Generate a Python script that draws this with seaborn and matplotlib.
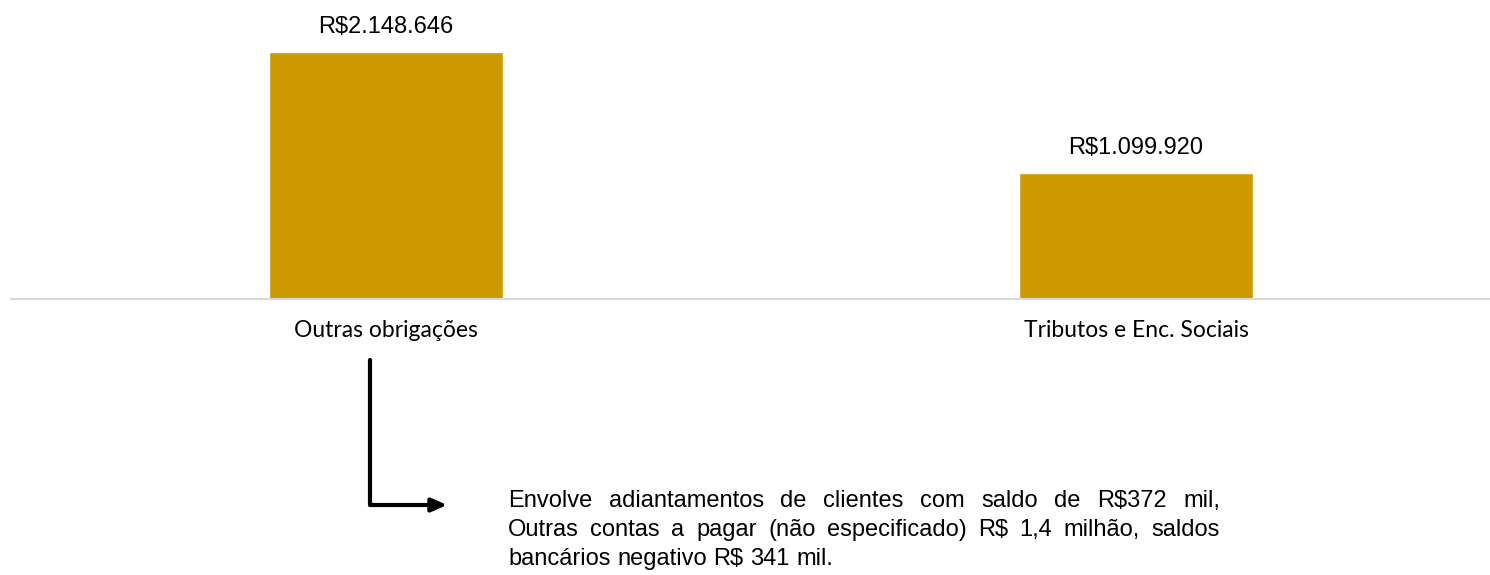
import pandas as pd
import matplotlib.pyplot as plt
import seaborn as sns

# data
categorias = ['Outras obrigações', 'Tributos e Enc. Sociais']
valores = [2148646, 1099920]
rotulos = ['R$2.148.646', 'R$1.099.920']
nota = ['Envolve adiantamentos de clientes com saldo de R$372 mil,',
        'Outras contas a pagar (não especificado) R$ 1,4 milhão, saldos',
        'bancários negativo R$ 341 mil.']

df = pd.DataFrame({'Categoria': categorias, 'Valor': valores})

sns.set_style('white')
plt.rcParams['font.family'] = ['Liberation Sans', 'DejaVu Sans']

fig = plt.figure(figsize=(14.9, 5.75), dpi=100)
ax = fig.add_axes([11 / 1490, 276 / 575, 1479 / 1490, 299 / 575])

sns.barplot(x='Categoria', y='Valor', data=df, color='#CC9900',
            width=0.313, saturation=1, ax=ax)

ax.set_xlim(-0.5, 1.472)
ax.set_ylim(0, 2601000)
ax.set_xlabel('')
ax.set_ylabel('')
ax.set_yticks([])
for s in ['top', 'left', 'right']:
    ax.spines[s].set_visible(False)
ax.spines['bottom'].set_color('#D9D9D9')
ax.spines['bottom'].set_linewidth(1.5)
ax.tick_params(axis='x', length=0, pad=15, labelsize=16.5, labelcolor='black')
for lbl in ax.get_xticklabels():
    lbl.set_family(['Lato', 'DejaVu Sans'])

for i, (v, t) in enumerate(zip(valores, rotulos)):
    ax.annotate(t, xy=(i, v), xytext=(0, 10), textcoords='offset points',
                ha='center', va='bottom', fontsize=17, color='black')

# arrow pointing to the note
ax.annotate('', xy=(447, 575 - 505), xytext=(370, 575 - 360),
            xycoords='figure pixels', textcoords='figure pixels',
            arrowprops=dict(arrowstyle='-|>,head_length=0.9,head_width=0.4',
                            connectionstyle='angle,angleA=90,angleB=0,rad=0',
                            color='black', lw=3, shrinkA=0, shrinkB=0))

# justified note text (last line left aligned)
renderer = fig.canvas.get_renderer()
x0, x1 = 508, 1220
baselines = [507, 536, 565]
for n, (linha, yb) in enumerate(zip(nota, baselines)):
    palavras = linha.split(' ')
    textos = [fig.text(0, 0, p, fontsize=17, color='black', va='baseline',
                       ha='left', transform=None) for p in palavras]
    larg = [t.get_window_extent(renderer).width for t in textos]
    if n < len(nota) - 1:
        gap = (x1 - x0 - sum(larg)) / (len(palavras) - 1)
    else:
        gap = fig.text(0, 0, 'a a', fontsize=17).get_window_extent(renderer).width \
            - 2 * fig.text(0, 0, 'a', fontsize=17).get_window_extent(renderer).width
    x = x0
    for t, w in zip(textos, larg):
        t.set_position((x, 575 - yb))
        x += w + gap
for t in fig.texts[:]:
    if t.get_text() in ('a a', 'a') and t.get_position() == (0, 0):
        t.remove()

fig.savefig('out.png', dpi=100)
